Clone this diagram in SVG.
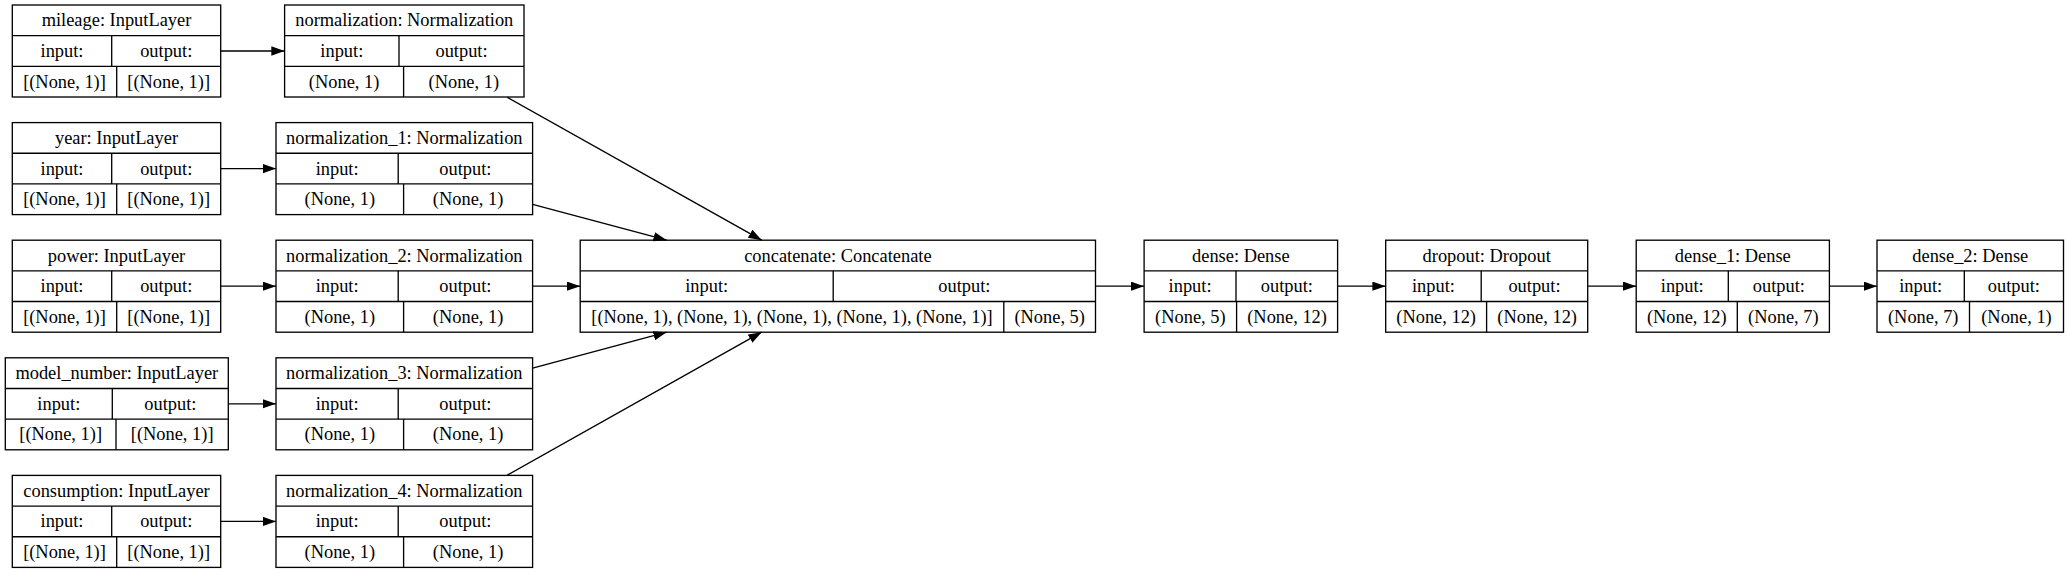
<svg xmlns="http://www.w3.org/2000/svg" width="2067" height="573" viewBox="0 0 2067 573">
<style>
.box{fill:none;stroke:#000;stroke-width:1.33}
.ln{stroke:#000;stroke-width:1.33}
.t{font-family:"Liberation Serif","Times New Roman",serif;font-size:18.4px;text-anchor:middle;fill:#000}
.e{fill:none;stroke:#000;stroke-width:1.33}
</style>
<defs>
<marker id="arr" markerUnits="userSpaceOnUse" markerWidth="16" markerHeight="12" refX="13.3" refY="4.67" orient="auto">
<path d="M0,0 L13.3,4.67 L0,9.33 z" fill="#000"/>
</marker>
</defs>
<rect width="2067" height="573" fill="#fff"/>

<g id="mileage">
<rect class="box" x="12.3" y="5" width="208.4" height="92"/>
<line class="ln" x1="12.3" y1="35.67" x2="220.7" y2="35.67"/>
<line class="ln" x1="12.3" y1="66.33" x2="220.7" y2="66.33"/>
<line class="ln" x1="111.7" y1="35.67" x2="111.7" y2="66.33"/>
<line class="ln" x1="116.7" y1="66.33" x2="116.7" y2="97"/>
<text class="t" x="116.5" y="26.3">mileage: InputLayer</text>
<text class="t" x="62" y="57">input:</text>
<text class="t" x="166.2" y="57">output:</text>
<text class="t" x="64.5" y="87.6">[(None, 1)]</text>
<text class="t" x="168.7" y="87.6">[(None, 1)]</text>
</g>

<g id="year">
<rect class="box" x="12.3" y="122.6" width="208.4" height="92"/>
<line class="ln" x1="12.3" y1="153.27" x2="220.7" y2="153.27"/>
<line class="ln" x1="12.3" y1="183.93" x2="220.7" y2="183.93"/>
<line class="ln" x1="111.7" y1="153.27" x2="111.7" y2="183.93"/>
<line class="ln" x1="116.7" y1="183.93" x2="116.7" y2="214.6"/>
<text class="t" x="116.5" y="143.9">year: InputLayer</text>
<text class="t" x="62" y="174.6">input:</text>
<text class="t" x="166.2" y="174.6">output:</text>
<text class="t" x="64.5" y="205.2">[(None, 1)]</text>
<text class="t" x="168.7" y="205.2">[(None, 1)]</text>
</g>

<g id="power">
<rect class="box" x="12.3" y="240.2" width="208.4" height="92"/>
<line class="ln" x1="12.3" y1="270.87" x2="220.7" y2="270.87"/>
<line class="ln" x1="12.3" y1="301.53" x2="220.7" y2="301.53"/>
<line class="ln" x1="111.7" y1="270.87" x2="111.7" y2="301.53"/>
<line class="ln" x1="116.7" y1="301.53" x2="116.7" y2="332.2"/>
<text class="t" x="116.5" y="261.5">power: InputLayer</text>
<text class="t" x="62" y="292.2">input:</text>
<text class="t" x="166.2" y="292.2">output:</text>
<text class="t" x="64.5" y="322.8">[(None, 1)]</text>
<text class="t" x="168.7" y="322.8">[(None, 1)]</text>
</g>

<g id="model_number">
<rect class="box" x="5.3" y="357.8" width="223" height="92"/>
<line class="ln" x1="5.3" y1="388.47" x2="228.3" y2="388.47"/>
<line class="ln" x1="5.3" y1="419.13" x2="228.3" y2="419.13"/>
<line class="ln" x1="112.3" y1="388.47" x2="112.3" y2="419.13"/>
<line class="ln" x1="116" y1="419.13" x2="116" y2="449.8"/>
<text class="t" x="116.8" y="379.1">model_number: InputLayer</text>
<text class="t" x="58.8" y="409.8">input:</text>
<text class="t" x="170.3" y="409.8">output:</text>
<text class="t" x="60.65" y="440.4">[(None, 1)]</text>
<text class="t" x="172.15" y="440.4">[(None, 1)]</text>
</g>

<g id="consumption">
<rect class="box" x="12.3" y="475.4" width="208.4" height="92"/>
<line class="ln" x1="12.3" y1="506.07" x2="220.7" y2="506.07"/>
<line class="ln" x1="12.3" y1="536.73" x2="220.7" y2="536.73"/>
<line class="ln" x1="111.7" y1="506.07" x2="111.7" y2="536.73"/>
<line class="ln" x1="116.7" y1="536.73" x2="116.7" y2="567.4"/>
<text class="t" x="116.5" y="496.7">consumption: InputLayer</text>
<text class="t" x="62" y="527.4">input:</text>
<text class="t" x="166.2" y="527.4">output:</text>
<text class="t" x="64.5" y="558">[(None, 1)]</text>
<text class="t" x="168.7" y="558">[(None, 1)]</text>
</g>

<g id="normalization">
<rect class="box" x="284.6" y="5" width="239.4" height="92"/>
<line class="ln" x1="284.6" y1="35.67" x2="524" y2="35.67"/>
<line class="ln" x1="284.6" y1="66.33" x2="524" y2="66.33"/>
<line class="ln" x1="399" y1="35.67" x2="399" y2="66.33"/>
<line class="ln" x1="403.6" y1="66.33" x2="403.6" y2="97"/>
<text class="t" x="404.3" y="26.3">normalization: Normalization</text>
<text class="t" x="341.8" y="57">input:</text>
<text class="t" x="461.5" y="57">output:</text>
<text class="t" x="344.1" y="87.6">(None, 1)</text>
<text class="t" x="463.8" y="87.6">(None, 1)</text>
</g>

<g id="normalization_1">
<rect class="box" x="276" y="122.6" width="256.6" height="92"/>
<line class="ln" x1="276" y1="153.27" x2="532.6" y2="153.27"/>
<line class="ln" x1="276" y1="183.93" x2="532.6" y2="183.93"/>
<line class="ln" x1="398.2" y1="153.27" x2="398.2" y2="183.93"/>
<line class="ln" x1="403.6" y1="183.93" x2="403.6" y2="214.6"/>
<text class="t" x="404.3" y="143.9">normalization_1: Normalization</text>
<text class="t" x="337.1" y="174.6">input:</text>
<text class="t" x="465.4" y="174.6">output:</text>
<text class="t" x="339.8" y="205.2">(None, 1)</text>
<text class="t" x="468.1" y="205.2">(None, 1)</text>
</g>

<g id="normalization_2">
<rect class="box" x="276" y="240.2" width="256.6" height="92"/>
<line class="ln" x1="276" y1="270.87" x2="532.6" y2="270.87"/>
<line class="ln" x1="276" y1="301.53" x2="532.6" y2="301.53"/>
<line class="ln" x1="398.2" y1="270.87" x2="398.2" y2="301.53"/>
<line class="ln" x1="403.6" y1="301.53" x2="403.6" y2="332.2"/>
<text class="t" x="404.3" y="261.5">normalization_2: Normalization</text>
<text class="t" x="337.1" y="292.2">input:</text>
<text class="t" x="465.4" y="292.2">output:</text>
<text class="t" x="339.8" y="322.8">(None, 1)</text>
<text class="t" x="468.1" y="322.8">(None, 1)</text>
</g>

<g id="normalization_3">
<rect class="box" x="276" y="357.8" width="256.6" height="92"/>
<line class="ln" x1="276" y1="388.47" x2="532.6" y2="388.47"/>
<line class="ln" x1="276" y1="419.13" x2="532.6" y2="419.13"/>
<line class="ln" x1="398.2" y1="388.47" x2="398.2" y2="419.13"/>
<line class="ln" x1="403.6" y1="419.13" x2="403.6" y2="449.8"/>
<text class="t" x="404.3" y="379.1">normalization_3: Normalization</text>
<text class="t" x="337.1" y="409.8">input:</text>
<text class="t" x="465.4" y="409.8">output:</text>
<text class="t" x="339.8" y="440.4">(None, 1)</text>
<text class="t" x="468.1" y="440.4">(None, 1)</text>
</g>

<g id="normalization_4">
<rect class="box" x="276" y="475.4" width="256.6" height="92"/>
<line class="ln" x1="276" y1="506.07" x2="532.6" y2="506.07"/>
<line class="ln" x1="276" y1="536.73" x2="532.6" y2="536.73"/>
<line class="ln" x1="398.2" y1="506.07" x2="398.2" y2="536.73"/>
<line class="ln" x1="403.6" y1="536.73" x2="403.6" y2="567.4"/>
<text class="t" x="404.3" y="496.7">normalization_4: Normalization</text>
<text class="t" x="337.1" y="527.4">input:</text>
<text class="t" x="465.4" y="527.4">output:</text>
<text class="t" x="339.8" y="558">(None, 1)</text>
<text class="t" x="468.1" y="558">(None, 1)</text>
</g>

<g id="concatenate">
<rect class="box" x="580.2" y="240.2" width="515.3" height="92"/>
<line class="ln" x1="580.2" y1="270.87" x2="1095.5" y2="270.87"/>
<line class="ln" x1="580.2" y1="301.53" x2="1095.5" y2="301.53"/>
<line class="ln" x1="833.2" y1="270.87" x2="833.2" y2="301.53"/>
<line class="ln" x1="1003.8" y1="301.53" x2="1003.8" y2="332.2"/>
<text class="t" x="837.9" y="261.5">concatenate: Concatenate</text>
<text class="t" x="706.7" y="292.2">input:</text>
<text class="t" x="964.4" y="292.2">output:</text>
<text class="t" x="792" y="322.8">[(None, 1), (None, 1), (None, 1), (None, 1), (None, 1)]</text>
<text class="t" x="1049.7" y="322.8">(None, 5)</text>
</g>

<g id="dense">
<rect class="box" x="1144.1" y="240.2" width="193.5" height="92"/>
<line class="ln" x1="1144.1" y1="270.87" x2="1337.6" y2="270.87"/>
<line class="ln" x1="1144.1" y1="301.53" x2="1337.6" y2="301.53"/>
<line class="ln" x1="1236" y1="270.87" x2="1236" y2="301.53"/>
<line class="ln" x1="1236.6" y1="301.53" x2="1236.6" y2="332.2"/>
<text class="t" x="1240.85" y="261.5">dense: Dense</text>
<text class="t" x="1190.05" y="292.2">input:</text>
<text class="t" x="1286.8" y="292.2">output:</text>
<text class="t" x="1190.35" y="322.8">(None, 5)</text>
<text class="t" x="1287.1" y="322.8">(None, 12)</text>
</g>

<g id="dropout">
<rect class="box" x="1385.7" y="240.2" width="202" height="92"/>
<line class="ln" x1="1385.7" y1="270.87" x2="1587.7" y2="270.87"/>
<line class="ln" x1="1385.7" y1="301.53" x2="1587.7" y2="301.53"/>
<line class="ln" x1="1481.2" y1="270.87" x2="1481.2" y2="301.53"/>
<line class="ln" x1="1486.6" y1="301.53" x2="1486.6" y2="332.2"/>
<text class="t" x="1486.7" y="261.5">dropout: Dropout</text>
<text class="t" x="1433.45" y="292.2">input:</text>
<text class="t" x="1534.45" y="292.2">output:</text>
<text class="t" x="1436.15" y="322.8">(None, 12)</text>
<text class="t" x="1537.15" y="322.8">(None, 12)</text>
</g>

<g id="dense_1">
<rect class="box" x="1636.2" y="240.2" width="193.2" height="92"/>
<line class="ln" x1="1636.2" y1="270.87" x2="1829.4" y2="270.87"/>
<line class="ln" x1="1636.2" y1="301.53" x2="1829.4" y2="301.53"/>
<line class="ln" x1="1728.3" y1="270.87" x2="1728.3" y2="301.53"/>
<line class="ln" x1="1737.3" y1="301.53" x2="1737.3" y2="332.2"/>
<text class="t" x="1732.8" y="261.5">dense_1: Dense</text>
<text class="t" x="1682.25" y="292.2">input:</text>
<text class="t" x="1778.85" y="292.2">output:</text>
<text class="t" x="1686.75" y="322.8">(None, 12)</text>
<text class="t" x="1783.35" y="322.8">(None, 7)</text>
</g>

<g id="dense_2">
<rect class="box" x="1877" y="240.2" width="186.5" height="92"/>
<line class="ln" x1="1877" y1="270.87" x2="2063.5" y2="270.87"/>
<line class="ln" x1="1877" y1="301.53" x2="2063.5" y2="301.53"/>
<line class="ln" x1="1964.3" y1="270.87" x2="1964.3" y2="301.53"/>
<line class="ln" x1="1969.5" y1="301.53" x2="1969.5" y2="332.2"/>
<text class="t" x="1970.25" y="261.5">dense_2: Dense</text>
<text class="t" x="1920.65" y="292.2">input:</text>
<text class="t" x="2013.9" y="292.2">output:</text>
<text class="t" x="1923.25" y="322.8">(None, 7)</text>
<text class="t" x="2016.5" y="322.8">(None, 1)</text>
</g>

<g id="connectors">
<path class="e" marker-end="url(#arr)" d="M220.7,51 L284.6,51"/>
<path class="e" marker-end="url(#arr)" d="M220.7,168.6 L276,168.6"/>
<path class="e" marker-end="url(#arr)" d="M220.7,286.2 L276,286.2"/>
<path class="e" marker-end="url(#arr)" d="M228.3,403.8 L276,403.8"/>
<path class="e" marker-end="url(#arr)" d="M220.7,521.4 L276,521.4"/>
<path class="e" marker-end="url(#arr)" d="M507.3,97.3 L761.7,240.2"/>
<path class="e" marker-end="url(#arr)" d="M532.6,204.3 L666.7,240.2"/>
<path class="e" marker-end="url(#arr)" d="M532.6,286.2 L580.2,286.2"/>
<path class="e" marker-end="url(#arr)" d="M532.6,368.1 L666.7,332.2"/>
<path class="e" marker-end="url(#arr)" d="M507.3,475.1 L761.7,332.2"/>
<path class="e" marker-end="url(#arr)" d="M1095.5,286.2 L1144.1,286.2"/>
<path class="e" marker-end="url(#arr)" d="M1337.6,286.2 L1385.7,286.2"/>
<path class="e" marker-end="url(#arr)" d="M1587.7,286.2 L1636.2,286.2"/>
<path class="e" marker-end="url(#arr)" d="M1829.4,286.2 L1877,286.2"/>
</g>
</svg>
